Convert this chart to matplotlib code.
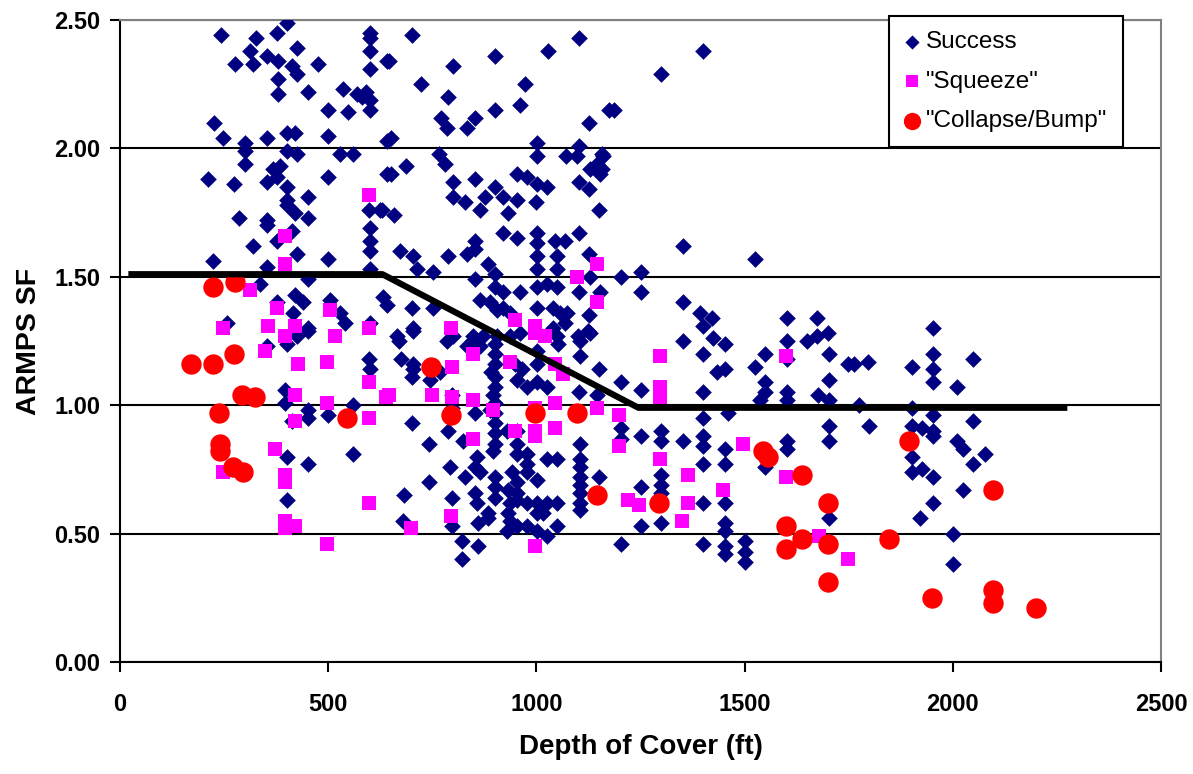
#!/usr/bin/env python3
"""
ARMPS stability factor vs depth of cover, with the design guideline line.
"""

import matplotlib
matplotlib.use("Agg")
import matplotlib.pyplot as plt
from matplotlib.ticker import FormatStrFormatter

# Case histories (depth of cover in ft, ARMPS SF)
success_depth = [
    243, 327, 377, 401, 312, 276, 320, 353, 380, 425, 413, 425, 475, 380, 380, 451,
    500, 536, 570, 590, 600, 580, 548, 600, 600, 600, 600, 600, 641, 226, 247, 300,
    300, 300, 353, 401, 420, 401, 425, 500, 528, 560, 641, 211, 274, 353, 368, 384,
    377, 401, 401, 401, 451, 500, 641, 598, 624, 600, 600, 600, 286, 353, 353, 420,
    451, 413, 377, 320, 223, 425, 500, 353, 600, 336, 451, 420, 440, 415, 377, 504,
    528, 540, 632, 641, 257, 451, 600, 353, 401, 598, 600, 396, 396, 451, 451, 500,
    560, 413, 401, 451, 560, 401, 425, 451,
    701, 646, 800, 723, 900, 1028, 1102, 788, 973, 961, 900, 771, 785, 833, 853, 1126,
    1174, 651, 1001, 1001, 1102, 1097, 1071, 1157, 1146, 766, 780, 651, 687, 1129, 1153, 953,
    977, 853, 900, 800, 800, 829, 877, 865, 920, 953, 932, 1001, 1025, 999, 1102, 1126,
    1150, 629, 658, 672, 704, 713, 788, 752, 833, 853, 853, 920, 953, 1001, 1001, 1001,
    1001, 1045, 1069, 1049, 1049, 1102, 1126, 884, 853, 900, 900, 920, 961, 1001, 1025, 1049,
    1001, 1102, 1129, 1153, 701, 704, 752, 865, 889, 905, 920, 937, 1040, 1057, 1073, 1069,
    1040, 1126, 1124, 666, 848, 872, 905, 961, 1049, 1100,
    1400, 1299, 1186, 1160, 1157, 1352, 1525, 1203, 1251, 1251, 1352, 1393, 1422, 1400, 1602, 1674,
    670, 704, 675, 704, 701, 704, 785, 800, 848, 865, 833, 900, 900, 900, 890, 900,
    900, 895, 900, 937, 949, 965, 953, 977, 1001, 1025, 1001, 1001, 1052, 1105, 1129, 1105,
    1150, 1102, 1146, 745, 752, 768, 797, 797, 788, 824, 853, 889, 701, 742, 742, 682,
    680, 793, 829, 797, 797, 821, 821, 860, 860, 857, 853, 865, 853, 857, 884, 884,
    900, 900, 900, 900, 896, 900, 900, 900, 929, 953, 953, 953, 977, 977, 977, 1001,
    1025, 1049, 941, 953, 932, 953, 937, 953, 932, 937, 929, 953, 977, 1001, 1025, 1049,
    977, 1001, 1025, 1049, 1001, 1016, 1105, 1105, 1105, 1105, 1105, 1105, 1105, 1105, 1150,
    1352, 1424, 1453, 1400, 1433, 1453, 1525, 1549, 1549, 1549, 1537, 1602, 1602, 1650, 1674, 1700,
    1703, 1703, 1676, 1703, 1602, 1602, 1748, 1203, 1251, 1400, 1400, 1460, 1203, 1203, 1251, 1299,
    1299, 1352, 1400, 1400, 1400, 1453, 1453, 1602, 1602, 1703, 1703, 1549, 1251, 1299, 1299, 1299,
    1400, 1453, 1453, 1453, 1251, 1299, 1203, 1400, 1453, 1453, 1501, 1501, 1501, 1703,
    1953, 1953, 1953, 1953, 2049, 1902, 1763, 1797, 2010, 1775, 1902, 1953, 1799, 2049, 1902, 1926,
    1953, 1953, 2010, 2025, 2077, 2049, 1902, 1902, 1926, 1953, 2025, 1953, 1921, 2001, 2001,
]
success_sf = [
    2.44, 2.43, 2.45, 2.49, 2.38, 2.33, 2.33, 2.36, 2.34, 2.39, 2.32, 2.29, 2.33, 2.27, 2.21, 2.22,
    2.15, 2.23, 2.21, 2.22, 2.19, 2.20, 2.14, 2.15, 2.45, 2.43, 2.38, 2.31, 2.34, 2.10, 2.04, 2.02,
    1.99, 1.94, 2.04, 2.06, 2.06, 1.99, 1.98, 2.05, 1.98, 1.98, 2.03, 1.88, 1.86, 1.87, 1.92, 1.93,
    1.89, 1.85, 1.80, 1.78, 1.81, 1.89, 1.90, 1.76, 1.76, 1.69, 1.64, 1.60, 1.73, 1.72, 1.70, 1.75,
    1.73, 1.68, 1.64, 1.62, 1.56, 1.59, 1.57, 1.54, 1.53, 1.47, 1.49, 1.43, 1.40, 1.36, 1.40, 1.41,
    1.36, 1.32, 1.42, 1.39, 1.32, 1.30, 1.32, 1.23, 1.24, 1.18, 1.14, 1.06, 1.01, 0.98, 0.95, 0.96,
    1.00, 0.94, 0.80, 0.77, 0.81, 0.63, 1.27, 1.29,
    2.44, 2.34, 2.32, 2.25, 2.36, 2.38, 2.43, 2.20, 2.25, 2.17, 2.15, 2.12, 2.08, 2.08, 2.12, 2.10,
    2.15, 2.04, 2.02, 1.97, 2.01, 1.97, 1.97, 1.98, 1.94, 1.98, 1.94, 1.90, 1.93, 1.92, 1.90, 1.90,
    1.89, 1.88, 1.85, 1.87, 1.81, 1.79, 1.81, 1.76, 1.81, 1.80, 1.75, 1.86, 1.85, 1.79, 1.87, 1.84,
    1.76, 1.76, 1.74, 1.60, 1.58, 1.53, 1.58, 1.52, 1.59, 1.64, 1.61, 1.67, 1.65, 1.67, 1.63, 1.58,
    1.53, 1.64, 1.64, 1.58, 1.53, 1.67, 1.59, 1.55, 1.49, 1.51, 1.46, 1.44, 1.44, 1.46, 1.47, 1.46,
    1.38, 1.44, 1.50, 1.44, 1.38, 1.30, 1.38, 1.41, 1.40, 1.37, 1.38, 1.36, 1.38, 1.36, 1.36, 1.32,
    1.30, 1.35, 1.29, 1.27, 1.27, 1.27, 1.27, 1.28, 1.27, 1.27,
    2.38, 2.29, 2.15, 1.97, 1.92, 1.62, 1.57, 1.50, 1.52, 1.44, 1.40, 1.36, 1.34, 1.31, 1.34, 1.34,
    1.25, 1.29, 1.18, 1.16, 1.11, 1.14, 1.25, 1.27, 1.25, 1.23, 1.23, 1.24, 1.20, 1.16, 1.13, 1.11,
    1.07, 1.04, 1.01, 1.27, 1.16, 1.14, 1.10, 1.07, 1.09, 1.07, 1.16, 1.21, 1.24, 1.25, 1.28, 1.19,
    1.14, 1.05, 1.04, 1.10, 1.15, 1.13, 1.04, 0.99, 0.90, 0.86, 0.97, 0.98, 0.93, 0.85, 0.70, 0.65,
    0.55, 0.76, 0.72, 0.64, 0.53, 0.47, 0.40, 0.45, 0.54, 0.80, 0.76, 0.74, 0.66, 0.62, 0.58, 0.56,
    0.97, 0.93, 0.89, 0.85, 0.82, 0.72, 0.68, 0.64, 0.90, 0.90, 0.85, 0.81, 0.81, 0.77, 0.74, 0.71,
    0.79, 0.79, 0.74, 0.70, 0.67, 0.66, 0.62, 0.63, 0.58, 0.55, 0.51, 0.53, 0.53, 0.51, 0.49, 0.53,
    0.62, 0.62, 0.62, 0.62, 0.58, 0.58, 0.85, 0.79, 0.76, 0.72, 0.69, 0.66, 0.62, 0.59, 0.72,
    1.25, 1.26, 1.24, 1.20, 1.13, 1.14, 1.15, 1.20, 1.09, 1.05, 1.02, 1.25, 1.18, 1.25, 1.27, 1.28,
    1.20, 1.10, 1.04, 1.02, 1.05, 1.02, 1.16, 1.09, 1.06, 1.05, 0.95, 0.97, 0.91, 0.87, 0.88, 0.90,
    0.86, 0.86, 0.88, 0.84, 0.77, 0.83, 0.77, 0.86, 0.83, 0.92, 0.86, 0.76, 0.68, 0.73, 0.69, 0.66,
    0.62, 0.62, 0.54, 0.51, 0.53, 0.54, 0.46, 0.46, 0.45, 0.42, 0.47, 0.43, 0.39, 0.56,
    1.30, 1.20, 1.14, 1.09, 1.18, 1.15, 1.16, 1.17, 1.07, 1.00, 0.99, 0.96, 0.92, 0.94, 0.92, 0.91,
    0.90, 0.88, 0.86, 0.83, 0.81, 0.77, 0.80, 0.74, 0.75, 0.72, 0.67, 0.62, 0.56, 0.50, 0.38,
]

squeeze_depth = [
    598, 396, 396, 312, 377, 504, 355, 420, 247, 598, 396, 516, 348, 428, 497, 598,
    420, 497, 639, 420, 598, 372, 247, 396, 396, 598, 396, 396, 420, 497,
    795, 949, 997, 997, 1021, 1098, 1146, 1146, 646, 749, 797, 848, 797, 848, 937, 896,
    848, 949, 997, 997, 997, 1045, 1045, 1045, 1064, 1146, 795, 699, 997,
    1297, 1297, 1297, 1599, 1198, 1198, 1297, 1364, 1496, 1599, 1220, 1246, 1364, 1350,
    1448, 1679, 1748,
]
squeeze_sf = [
    1.82, 1.66, 1.55, 1.45, 1.38, 1.37, 1.31, 1.31, 1.30, 1.30, 1.27, 1.27, 1.21, 1.16, 1.17, 1.09,
    1.04, 1.01, 1.03, 0.94, 0.95, 0.83, 0.74, 0.73, 0.70, 0.62, 0.55, 0.52, 0.53, 0.46,
    1.30, 1.33, 1.31, 1.28, 1.27, 1.50, 1.55, 1.40, 1.04, 1.04, 1.03, 1.02, 1.15, 1.20, 1.17, 0.98,
    0.87, 0.90, 0.99, 0.90, 0.88, 1.01, 0.91, 1.16, 1.12, 0.99, 0.57, 0.52, 0.45,
    1.19, 1.07, 1.03, 1.19, 0.96, 0.84, 0.79, 0.73, 0.85, 0.72, 0.63, 0.61, 0.62, 0.55,
    0.67, 0.49, 0.40,
]

collapse_depth = [
    223, 276, 170, 223, 274, 293, 324, 238, 240, 240, 271, 296, 545, 747, 795, 997,
    1098, 1146, 1295, 1544, 1556, 1638, 1700, 1599, 1599, 1638, 1700, 1700, 1895, 2097,
    1847, 1950, 2097, 2097, 2200,
]
collapse_sf = [
    1.46, 1.48, 1.16, 1.16, 1.20, 1.04, 1.03, 0.97, 0.85, 0.82, 0.76, 0.74, 0.95, 1.15, 0.96, 0.97,
    0.97, 0.65, 0.62, 0.82, 0.80, 0.73, 0.62, 0.53, 0.44, 0.48, 0.46, 0.31, 0.86, 0.67,
    0.48, 0.25, 0.28, 0.23, 0.21,
]

# Suggested ARMPS SF guideline
guide_depth = [20, 630, 1245, 2275]
guide_sf = [1.51, 1.51, 0.99, 0.99]

NAVY = "#000080"
MAGENTA = "#FF00FF"
RED = "#FF0000"


def plot_chart(output_file="out.png"):
    plt.rcParams["font.family"] = ["Liberation Sans", "DejaVu Sans"]

    fig = plt.figure(figsize=(11.93, 7.74), dpi=100)
    ax = fig.add_axes([0.1006, 0.1447, 0.8726, 0.8295])

    ax.scatter(success_depth, success_sf, marker="D", s=72, color=NAVY,
               linewidths=0, label="Success", zorder=3)
    ax.scatter(squeeze_depth, squeeze_sf, marker="s", s=98, color=MAGENTA,
               linewidths=0, label='"Squeeze"', zorder=4)
    ax.scatter(collapse_depth, collapse_sf, marker="o", s=215, color=RED,
               linewidths=0, label='"Collapse/Bump"', zorder=5)
    ax.plot(guide_depth, guide_sf, color="black", linewidth=4.5,
            solid_capstyle="butt", zorder=6)

    ax.set_xlim(0, 2500)
    ax.set_ylim(0, 2.5)
    ax.set_xticks([0, 500, 1000, 1500, 2000, 2500])
    ax.set_yticks([0, 0.5, 1.0, 1.5, 2.0, 2.5])
    ax.yaxis.set_major_formatter(FormatStrFormatter("%.2f"))

    ax.grid(axis="y", color="black", linewidth=1.5, zorder=0)
    ax.set_axisbelow(True)

    for side in ("left", "bottom"):
        ax.spines[side].set_color("black")
        ax.spines[side].set_linewidth(1.5)
    for side in ("top", "right"):
        ax.spines[side].set_color("#808080")
        ax.spines[side].set_linewidth(1.5)

    ax.tick_params(axis="both", direction="out", length=7, width=1.5, labelsize=17)
    ax.tick_params(axis="x", pad=15)
    ax.tick_params(axis="y", pad=7)
    for lbl in ax.get_xticklabels() + ax.get_yticklabels():
        lbl.set_fontweight("bold")

    ax.set_xlabel("Depth of Cover (ft)", fontsize=20, fontweight="bold", labelpad=13)
    ax.set_ylabel("ARMPS SF", fontsize=20.5, fontweight="bold", labelpad=9)

    # legend box sits a little above the top of the plot area
    leg = ax.legend(loc="upper left", bbox_to_anchor=(889 / 1193, 1 - 16 / 774),
                    bbox_transform=fig.transFigure, fontsize=17.5, frameon=True,
                    fancybox=False, borderpad=0.62, handletextpad=0.25,
                    handlelength=0.66, labelspacing=0.72, borderaxespad=0,
                    markerscale=0.85)
    leg.get_frame().set_edgecolor("black")
    leg.get_frame().set_linewidth(1.5)
    leg.get_frame().set_alpha(1)
    leg.set_zorder(10)

    fig.savefig(output_file, dpi=100)


if __name__ == "__main__":
    plot_chart()
